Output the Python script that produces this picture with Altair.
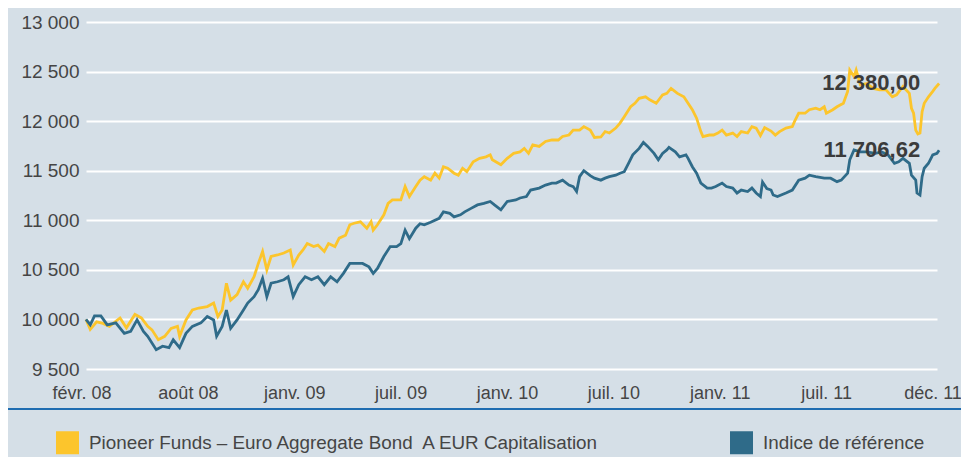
import json
import altair as alt
import pandas as pd

# ---- data ----
series_names = ["Pioneer Funds – Euro Aggregate Bond\u00a0 A EUR Capitalisation", "Indice de référence"]
series_colors = ["#fcc52c", "#2f6b89"]

tick_weeks = [0, 25, 50, 75, 100, 125, 150, 175, 200]
tick_labels = ["févr. 08", "août 08", "janv. 09", "juil. 09", "janv. 10",
               "juil. 10", "janv. 11", "juil. 11", "déc. 11"]
y_ticks = [9500, 10000, 10500, 11000, 11500, 12000, 12500, 13000]

fund_weeks = [
    0, 1, 2.5, 4, 5.5, 8, 9.5, 11.5, 13, 14.5,
    15.5, 17, 18.5, 20, 21.5, 22, 23.5, 25, 26.5, 28.5,
    30, 31, 32, 33, 34, 35.5, 37, 38, 39.5, 40.5,
    41.5, 42.5, 43.5, 45, 46.5, 48, 48.7, 50, 51, 52,
    53.5, 54.5, 56, 57, 58.5, 59.5, 61, 62, 63, 64.5,
    66, 67, 67.5, 68.5, 70, 71, 72, 74, 75, 76,
    77.5, 78.5, 79.5, 81, 82, 83, 84, 85, 86.5, 87.5,
    88.5, 89.5, 91, 92.5, 94, 95, 95.5, 97.5, 99, 100.5,
    102, 103, 104, 105, 106.5, 108, 109.5, 111, 112, 113.5,
    114.5, 116, 117, 118.5, 119.5, 121, 122, 123, 124.5, 125.5,
    126.5, 128, 129, 130, 131.5, 132.5, 134, 135.5, 136.5, 137.5,
    139, 140.5, 141.5, 142.5, 143.5, 144.5, 145, 146.5, 147.5, 148.5,
    149.5, 150.5, 152, 153, 154, 155.5, 156.5, 157.5, 158.5, 159.5,
    161, 162, 163, 164.5, 166, 166.5, 167.5, 169, 170, 171.5,
    172.5, 173.5, 174, 175.5, 176.5, 178, 179, 179.5, 180.5, 181,
    182, 183.5, 185, 186.5, 188, 189.5, 190.5, 192, 193.5, 194,
    194.5, 195, 195.5, 196, 196.5, 197, 198, 199, 199.5, 200.5]
fund_values = [
    10000, 9900, 9975, 9960, 9930, 10015, 9915, 10050, 10015, 9930,
    9895, 9795, 9830, 9910, 9930, 9830, 9995, 10095, 10115, 10130,
    10165, 10030, 10095, 10365, 10195, 10250, 10380, 10315, 10430, 10565,
    10685, 10500, 10635, 10650, 10670, 10700, 10550, 10650, 10700, 10765,
    10735, 10750, 10685, 10765, 10735, 10820, 10850, 10955, 10970, 10985,
    10920, 10985, 10900, 10955, 11055, 11170, 11205, 11205, 11340, 11240,
    11340, 11405, 11440, 11405, 11475, 11425, 11540, 11525, 11475, 11455,
    11525, 11490, 11590, 11625, 11640, 11660, 11610, 11560, 11625, 11675,
    11690, 11725, 11675, 11760, 11745, 11795, 11810, 11810, 11845, 11860,
    11910, 11910, 11945, 11910, 11835, 11840, 11895, 11880, 11930, 11980,
    12045, 12145, 12180, 12230, 12245, 12215, 12180, 12265, 12280, 12330,
    12280, 12245, 12180, 12115, 12030, 11895, 11845, 11860, 11860, 11880,
    11910, 11860, 11880, 11845, 11895, 11880, 11945, 11930, 11855, 11935,
    11900, 11860, 11895, 11930, 11945, 11995, 12080, 12080, 12115, 12130,
    12115, 12145, 12080, 12115, 12145, 12180, 12300, 12515, 12450, 12515,
    12365, 12380, 12330, 12315, 12315, 12245, 12265, 12350, 12280, 12130,
    12080, 11910, 11870, 11880, 12095, 12180, 12245, 12300, 12330, 12380.00]

index_weeks = [
    0, 1, 2, 3.5, 5, 7, 9, 10.5, 12, 13.5,
    14.5, 16.5, 18, 19.5, 20.5, 22, 23.5, 25, 27, 28.5,
    30, 30.7, 32, 33, 34, 35.5, 37, 38, 39.5, 40.5,
    41.5, 42.5, 43.5, 45, 46.5, 47.5, 48.7, 50, 51.5, 53,
    54.5, 56, 57.5, 59, 60.5, 62, 63.5, 65, 66.5, 67.5,
    68.5, 70, 71.5, 73, 74, 75, 76, 77.5, 78.5, 79.5,
    81, 83, 84, 85.5, 86.5, 88, 89, 90.5, 92, 93.5,
    95, 96, 97.5, 99, 101, 102, 103.5, 104.5, 106.5, 108,
    109.5, 110.5, 112, 113.5, 114.5, 115.3, 116, 117, 118.5, 119.5,
    121, 122, 123, 124.5, 125.5, 126.5, 127.5, 128.5, 130, 131,
    132, 133.5, 134.5, 135.5, 136.5, 137, 138.5, 139.5, 141, 141.5,
    142.5, 143.5, 144.5, 146, 147, 148, 149.5, 150.5, 152, 153,
    154, 155.5, 156.5, 157.5, 158.5, 159, 160, 161, 161.5, 162.5,
    164.5, 166, 167.5, 169, 170, 171.5, 173.5, 175, 176.5, 177.5,
    179, 179.5, 180.5, 182, 183.5, 185.5, 187, 188.5, 190, 191,
    192, 193.5, 194, 195, 195.3, 196, 196.5, 197, 198, 199,
    200, 200.5]
index_values = [
    10000, 9945, 10035, 10035, 9945, 9965, 9860, 9880, 9995, 9880,
    9830, 9695, 9730, 9715, 9795, 9715, 9860, 9930, 9965, 10030,
    9995, 9830, 9930, 10095, 9910, 9995, 10095, 10165, 10230, 10300,
    10415, 10230, 10365, 10380, 10400, 10430, 10230, 10350, 10430, 10400,
    10430, 10350, 10430, 10380, 10465, 10565, 10565, 10565, 10530, 10465,
    10515, 10635, 10735, 10735, 10765, 10900, 10815, 10920, 10965, 10955,
    10980, 11020, 11085, 11070, 11035, 11055, 11085, 11120, 11155, 11170,
    11190, 11155, 11105, 11190, 11205, 11225, 11240, 11305, 11325, 11355,
    11375, 11375, 11405, 11355, 11340, 11290, 11440, 11500, 11450, 11425,
    11405, 11425, 11440, 11455, 11475, 11490, 11575, 11660, 11725, 11785,
    11745, 11675, 11610, 11675, 11710, 11735, 11690, 11640, 11660, 11625,
    11540, 11475, 11375, 11325, 11325, 11340, 11375, 11340, 11325, 11275,
    11305, 11290, 11325, 11275, 11240, 11385, 11320, 11305, 11255, 11240,
    11275, 11305, 11405, 11425, 11455, 11440, 11425, 11425, 11390, 11405,
    11475, 11610, 11710, 11690, 11690, 11675, 11690, 11660, 11575, 11590,
    11625, 11575, 11455, 11405, 11275, 11255, 11440, 11525, 11575, 11660,
    11675, 11706.62]

end_labels = ["12 380,00", "11 706,62"]

assert len(fund_weeks) == len(fund_values)
assert len(index_weeks) == len(index_values)

rows = []
for w, v in zip(fund_weeks, fund_values):
    rows.append({"semaine": w, "valeur": v, "serie": series_names[0]})
for w, v in zip(index_weeks, index_values):
    rows.append({"semaine": w, "valeur": v, "serie": series_names[1]})
df = pd.DataFrame(rows)

ends = pd.DataFrame({
    "semaine": [fund_weeks[-1], index_weeks[-1]],
    "valeur": [fund_values[-1], index_values[-1]],
    "texte": end_labels,
})

FONT = "'Liberation Sans', Arial, sans-serif"
BG = "#d5dfe7"
TXT = "#454545"

x_label_expr = json.dumps(tick_labels) + "[round(datum.value / 25)]"

x_enc = alt.X(
    "semaine:Q",
    scale=alt.Scale(domain=[0, 200], nice=False, zero=False),
    axis=alt.Axis(
        values=tick_weeks, labelExpr=x_label_expr, title=None, grid=False,
        domain=False, ticks=False, labelPadding=20, labelFlush=False,
        labelOverlap=False, labelBound=False, translate=-4,
        labelFont=FONT, labelFontSize=18, labelColor=TXT,
    ),
)
y_enc = alt.Y(
    "valeur:Q",
    scale=alt.Scale(domain=[9500, 13000], nice=False, zero=False),
    axis=alt.Axis(
        values=y_ticks, labelExpr="replace(format(datum.value, ','), ',', ' ')",
        title=None, grid=True, gridColor="white", gridWidth=2, domain=False,
        ticks=False, labelPadding=7, labelFont=FONT, labelFontSize=19,
        labelColor=TXT,
    ),
)

lines = alt.Chart(df).mark_line(strokeWidth=2.8, clip=False).encode(
    x=x_enc,
    y=y_enc,
    color=alt.Color(
        "serie:N",
        scale=alt.Scale(domain=series_names, range=series_colors),
        sort=series_names,
        legend=alt.Legend(
            title=None, orient="none", legendX=-30, legendY=409,
            direction="horizontal", symbolType="square", symbolSize=4,
            symbolStrokeWidth=21, labelFont=FONT, labelFontSize=18.85,
            labelColor=TXT, labelOffset=10, columnPadding=97,
            labelLimit=1000, padding=0,
        ),
    ),
    order=alt.Order("semaine:Q"),
)

texts = alt.Chart(ends).mark_text(
    align="right", baseline="middle", dx=-19, font=FONT,
    fontSize=22, fontWeight="bold", color="#3b3b3b",
).encode(x="semaine:Q", y="valeur:Q", text="texte:N")

rule_df = pd.DataFrame({"k": [0]})
bottom_rule = alt.Chart(rule_df).mark_rule(color="#1f6db1", strokeWidth=2).encode(
    x=alt.value(-78), x2=alt.value(883), y=alt.value(387)
)

chart = alt.layer(lines, texts, bottom_rule).properties(
    width=851, height=347,
    autosize=alt.AutoSizeParams(type="none"),
    padding={"left": 78, "top": 14, "right": 24, "bottom": 88},
    background=BG,
).configure_view(stroke=None, fill=BG)

chart.save("out.html", embed_options={"renderer": "svg", "actions": False})
